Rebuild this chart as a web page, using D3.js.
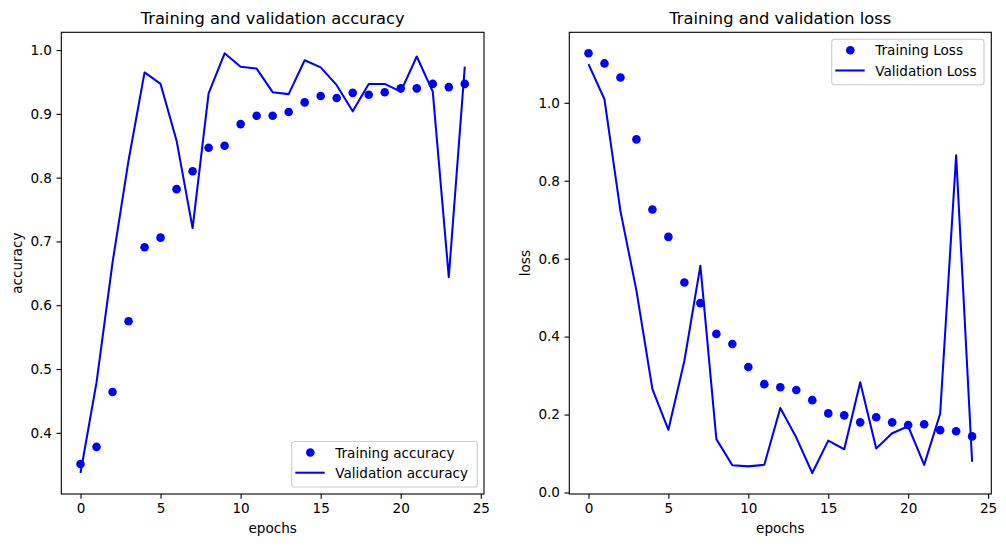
<!DOCTYPE html>
<html>
<head>
<meta charset="utf-8">
<script src="https://cdn.jsdelivr.net/npm/d3@7"></script>
<style>
  html, body { margin:0; padding:0; background:#fff; }
  svg { display:block; font-family:"DejaVu Sans", sans-serif; }
</style>
</head>
<body>
<svg id="chart" width="1006" height="547"></svg>
<script>
/* training history */
const epochs = d3.range(25);
const trainAcc = [0.351,0.378,0.464,0.575,0.691,0.706,0.782,0.810,0.847,0.850,0.884,0.897,0.897,0.903,0.918,0.928,0.925,0.933,0.930,0.934,0.940,0.940,0.947,0.942,0.947];
const valAcc   = [0.337,0.479,0.667,0.827,0.965,0.947,0.858,0.721,0.932,0.995,0.974,0.971,0.934,0.931,0.984,0.973,0.945,0.904,0.947,0.947,0.935,0.990,0.935,0.644,0.974];
const trainLoss = [1.127,1.101,1.065,0.906,0.726,0.656,0.539,0.486,0.407,0.381,0.322,0.278,0.270,0.263,0.237,0.203,0.198,0.180,0.193,0.180,0.173,0.175,0.160,0.157,0.144];
const valLoss   = [1.099,1.009,0.722,0.518,0.265,0.161,0.338,0.582,0.137,0.070,0.067,0.071,0.217,0.141,0.050,0.133,0.111,0.283,0.113,0.152,0.170,0.071,0.202,0.865,0.079];

const xTicks = [0,5,10,15,20,25];
const accTicks = [0.4,0.5,0.6,0.7,0.8,0.9,1.0];
const lossTicks = [0.0,0.2,0.4,0.6,0.8,1.0];

const BLUE = "#0000ff";
const FS = 13.6, TFS = 16.3;
const svg = d3.select("#chart");

// matplotlib-style 5% autoscale margin
function padded(vals){
  const [a,b] = d3.extent(vals), m = (b-a)*0.05;
  return [a-m, b+m];
}

function panel(opt){
  const {left, right, top, bottom} = opt;
  const g = svg.append("g");
  const x = d3.scaleLinear().domain(padded(epochs)).range([left, right]);
  const y = d3.scaleLinear().domain(padded(opt.train.concat(opt.val))).range([bottom, top]);

  // validation line
  g.append("path")
    .datum(epochs.map((e,i)=>[e, opt.val[i]]))
    .attr("fill","none").attr("stroke",BLUE).attr("stroke-width",2.05)
    .attr("stroke-linejoin","round")
    .attr("d", d3.line().x(d=>x(d[0])).y(d=>y(d[1])));

  // training dots
  g.selectAll("circle.dot").data(opt.train).enter().append("circle")
    .attr("class","dot")
    .attr("cx",(d,i)=>x(epochs[i])).attr("cy",d=>y(d)).attr("r",4.3)
    .attr("fill",BLUE);

  // axes
  const ax = g.append("g").attr("transform",`translate(0,${bottom})`)
    .call(d3.axisBottom(x).tickValues(xTicks).tickSize(4.8).tickPadding(4.5).tickFormat(d3.format("d")));
  const ay = g.append("g").attr("transform",`translate(${left},0)`)
    .call(d3.axisLeft(y).tickValues(opt.yTicks).tickSize(4.8).tickPadding(4.5).tickFormat(d3.format(".1f")));
  [ax, ay].forEach(a=>{
    a.select(".domain").remove();
    a.selectAll(".tick line").attr("stroke","#000").attr("stroke-width",1.1);
    a.selectAll(".tick text").attr("fill","#000").style("font-size",FS+"px")
      .style("font-family","DejaVu Sans");
  });

  // frame
  g.append("rect").attr("x",left).attr("y",top)
    .attr("width",right-left).attr("height",bottom-top)
    .attr("fill","none").attr("stroke","#000").attr("stroke-width",1.1);

  // title + labels
  g.append("text").attr("x",(left+right)/2).attr("y",top-8.3)
    .attr("text-anchor","middle").style("font-size",TFS+"px").text(opt.title);
  g.append("text").attr("x",(left+right)/2).attr("y",532.5)
    .attr("text-anchor","middle").style("font-size",FS+"px").text("epochs");
  g.append("text")
    .attr("transform",`translate(${opt.ylabelX},${(top+bottom)/2}) rotate(-90)`)
    .attr("text-anchor","middle").style("font-size",FS+"px").text(opt.ylabel);

  // legend
  const L = opt.legend;
  const lg = g.append("g").attr("transform",`translate(${L.x},${L.y})`);
  lg.append("rect").attr("width",L.w).attr("height",45.5).attr("rx",2.8)
    .attr("fill","#fff").attr("fill-opacity",0.8)
    .attr("stroke","#cccccc").attr("stroke-width",1.1);
  lg.append("circle").attr("cx",18.6).attr("cy",11).attr("r",4.3).attr("fill",BLUE);
  lg.append("line").attr("x1",3.6).attr("x2",33).attr("y1",31.2).attr("y2",31.2)
    .attr("stroke",BLUE).attr("stroke-width",2.05);
  lg.selectAll("text").data(L.labels).enter().append("text")
    .attr("x",43.5).attr("y",(d,i)=>16 + i*20.4)
    .style("font-size",FS+"px").text(d=>d);
}

panel({
  left:61.3, right:484, top:32.3, bottom:494,
  train:trainAcc, val:valAcc, yTicks:accTicks,
  title:"Training and validation accuracy", ylabel:"accuracy", ylabelX:21.5,
  legend:{x:291.7, y:441.5, w:185.6, labels:["Training accuracy","Validation accuracy"]}
});
panel({
  left:569.3, right:991.3, top:32.3, bottom:494,
  train:trainLoss, val:valLoss, yTicks:lossTicks,
  title:"Training and validation loss", ylabel:"loss", ylabelX:529.5,
  legend:{x:831.7, y:39.3, w:152.3, labels:["Training Loss","Validation Loss"]}
});
</script>
</body>
</html>
